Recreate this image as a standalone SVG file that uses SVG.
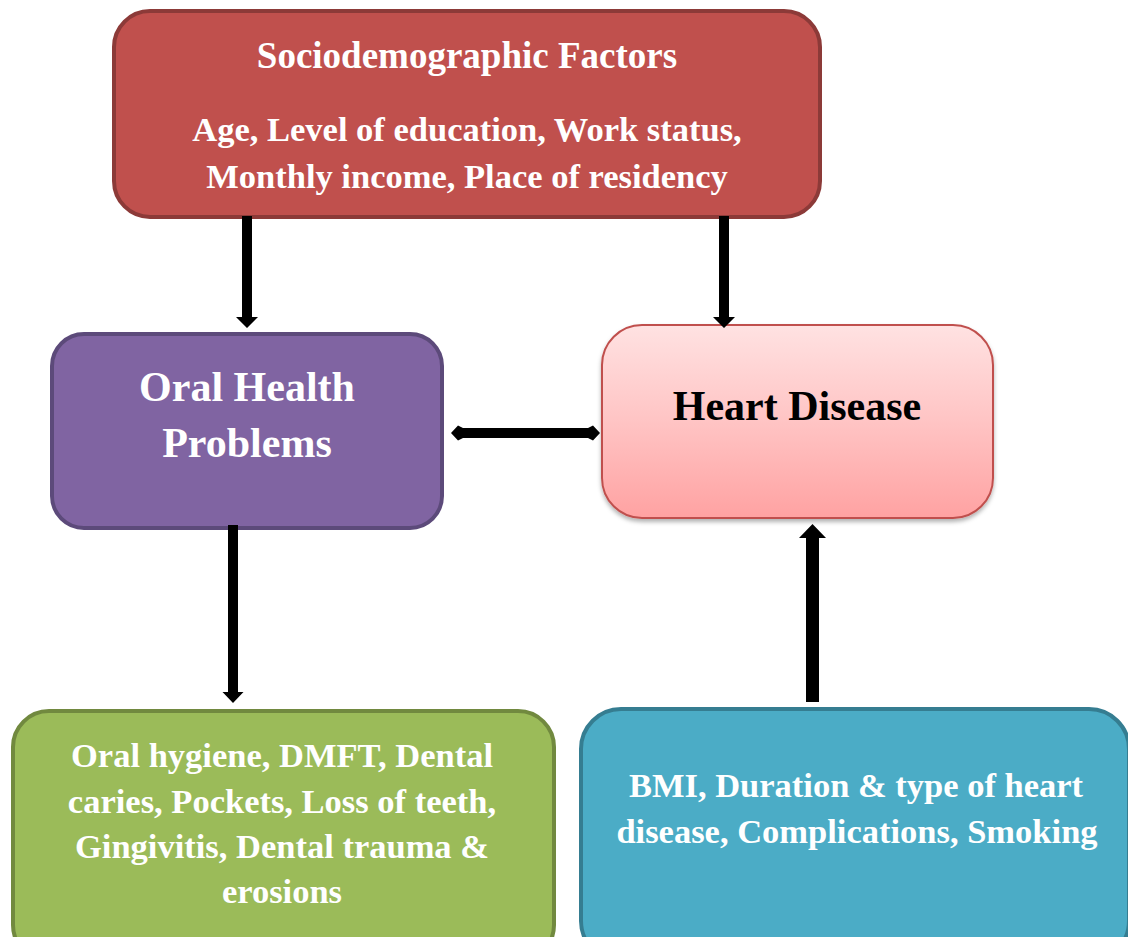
<svg xmlns="http://www.w3.org/2000/svg" width="1128" height="937" viewBox="0 0 1128 937">
  <style>
    .lbl { font-family: "Liberation Serif", "Times New Roman", serif; font-weight: bold; text-anchor: middle; }
    .white { fill: #ffffff; }
    .dark { fill: #000000; }
    .arrow { fill: #000000; }
  </style>
  <defs>
    <linearGradient id="heartFill" x1="0" y1="0" x2="0" y2="1">
      <stop offset="0" stop-color="#ffe2e2"/>
      <stop offset="0.5" stop-color="#ffc4c4"/>
      <stop offset="1" stop-color="#ffa2a2"/>
    </linearGradient>
    <filter id="softShadow" x="-10%" y="-10%" width="120%" height="130%">
      <feDropShadow dx="0" dy="3" stdDeviation="2" flood-color="#000000" flood-opacity="0.3"/>
    </filter>
  </defs>

  <rect width="1128" height="937" fill="#ffffff"/>

  <!-- Sociodemographic factors -->
  <g id="socio">
    <rect x="114" y="11" width="706" height="206" rx="36" ry="36" fill="#c0504d" stroke="#8c3a38" stroke-width="4"/>
    <text class="lbl white" x="467" y="68" font-size="37">Sociodemographic Factors</text>
    <text class="lbl white" x="467" y="141" font-size="34.5">Age, Level of education, Work status,</text>
    <text class="lbl white" x="467" y="188" font-size="34.5">Monthly income, Place of residency</text>
  </g>

  <!-- Oral health problems -->
  <g id="oral">
    <rect x="52" y="334" width="390" height="194" rx="32" ry="32" fill="#8064a2" stroke="#5c4a7a" stroke-width="4"/>
    <text class="lbl white" x="247" y="401" font-size="42">Oral Health</text>
    <text class="lbl white" x="247" y="457" font-size="42">Problems</text>
  </g>

  <!-- Heart disease -->
  <g id="heart">
    <rect x="602" y="325" width="391" height="193" rx="40" ry="40" fill="url(#heartFill)" stroke="#c0504d" stroke-width="2" filter="url(#softShadow)"/>
    <text class="lbl dark" x="797" y="420" font-size="42">Heart Disease</text>
  </g>

  <!-- Oral findings -->
  <g id="oral-findings">
    <rect x="13" y="711" width="541" height="250" rx="36" ry="36" fill="#9bbb59" stroke="#71893f" stroke-width="4"/>
    <text class="lbl white" x="282" y="767" font-size="34.5">Oral hygiene, DMFT, Dental</text>
    <text class="lbl white" x="282" y="813" font-size="34.5">caries, Pockets, Loss of teeth,</text>
    <text class="lbl white" x="282" y="858" font-size="34.5">Gingivitis, Dental trauma &amp;</text>
    <text class="lbl white" x="282" y="903" font-size="34.5">erosions</text>
  </g>

  <!-- Heart disease factors -->
  <g id="heart-factors">
    <rect x="581" y="709" width="548" height="252" rx="40" ry="40" fill="#4bacc6" stroke="#357d91" stroke-width="4"/>
    <text class="lbl white" x="856" y="797" font-size="34.5">BMI, Duration &amp; type of heart</text>
    <text class="lbl white" x="857" y="843" font-size="34.5">disease, Complications, Smoking</text>
  </g>

  <!-- Connectors -->
  <g id="connectors">
    <path class="arrow" d="M242,216 H252 V317 H258 L247,328 L236,317 H242 Z"/>
    <path class="arrow" d="M719,216 H729 V317 H735 L724,328 L713,317 H719 Z"/>
    <path class="arrow" d="M228,525 H238 V692 H243.5 L233,703 L222.5,692 H228 Z"/>
    <path class="arrow" d="M806,702 H819 V538 H826 L812.5,524 L799,538 H806 Z"/>
    <path class="arrow" d="M451,433 L458,425.5 L463,428 H588 L593,425.5 L600,433 L593,440.5 L588,438 H463 L458,440.5 Z"/>
  </g>
</svg>
